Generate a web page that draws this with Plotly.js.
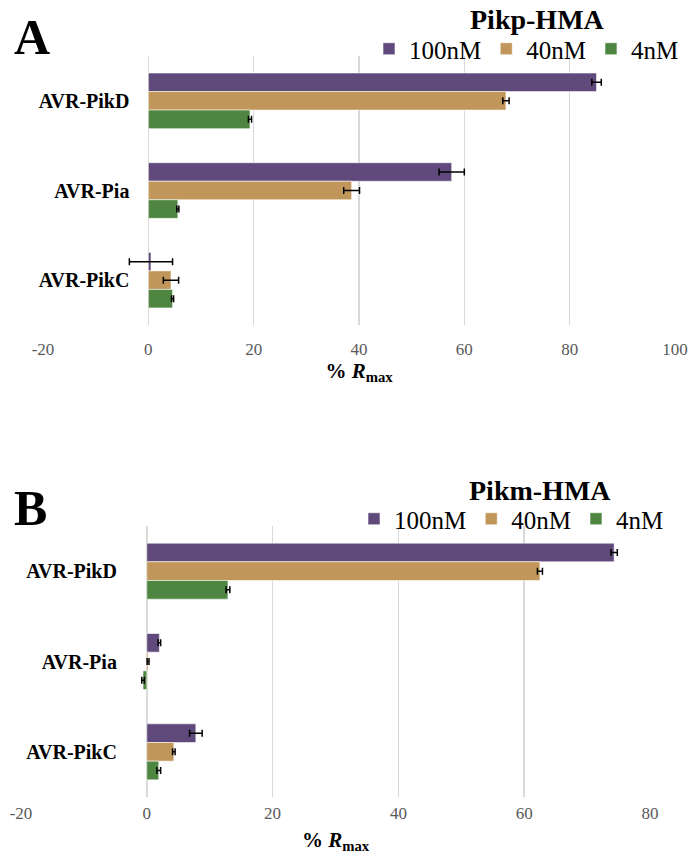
<!DOCTYPE html>
<html>
<head>
<meta charset="utf-8">
<script src="https://cdn.plot.ly/plotly-3.0.1.min.js"></script>
<style>html,body{margin:0;padding:0;background:#fff;}#chart{width:691px;height:854px;}</style>
</head>
<body>
<div id="chart"></div>
<script>
// ---- data ----
const categories = ['AVR-PikD', 'AVR-Pia', 'AVR-PikC'];
const seriesNames = ['100nM', '40nM', '4nM'];
const seriesColors = ['#604a7b', '#c0965a', '#4d8541'];

// Panel A: Pikp-HMA (% Rmax)
const pikp100 = [85.1, 57.6, 0.5];
const pikp100Err = [0.9, 2.4, 4.1];
const pikp40 = [67.9, 38.6, 4.3];
const pikp40Err = [0.6, 1.5, 1.45];
const pikp4 = [19.3, 5.6, 4.6];
const pikp4Err = [0.3, 0.2, 0.2];

// Panel B: Pikm-HMA (% Rmax)
const pikm100 = [74.3, 2.0, 7.8];
const pikm100Err = [0.5, 0.2, 1.0];
const pikm40 = [62.5, 0.2, 4.3];
const pikm40Err = [0.4, 0.15, 0.2];
const pikm4 = [12.9, -0.6, 1.9];
const pikm4Err = [0.3, 0.2, 0.3];

// tick labels
const tickValsA = [-20, 0, 20, 40, 60, 80, 100];
const tickTextA = ['-20', '0', '20', '40', '60', '80', '100'];
const tickValsB = [-20, 0, 20, 40, 60, 80];
const tickTextB = ['-20', '0', '20', '40', '60', '80'];

const W = 691, H = 854;
const px = v => v / W;
const py = v => 1 - v / H;

const serif = 'Liberation Serif, DejaVu Serif, serif';

function mk(vals, errs, idx, xa, ya, legend) {
  return {
    type: 'bar', orientation: 'h',
    y: categories, x: vals,
    name: seriesNames[idx],
    xaxis: xa, yaxis: ya, legend: legend,
    showlegend: true,
    marker: { color: seriesColors[idx], line: { color: 'rgba(255,255,255,0.7)', width: 0.8 } },
    error_x: { type: 'data', array: errs, visible: true, color: '#000', thickness: 1.5, width: 3.5 },
    hoverinfo: 'x+name'
  };
}

const data = [
  mk(pikp100, pikp100Err, 0, 'x', 'y', 'legend'),
  mk(pikp40, pikp40Err, 1, 'x', 'y', 'legend'),
  mk(pikp4, pikp4Err, 2, 'x', 'y', 'legend'),
  mk(pikm100, pikm100Err, 0, 'x2', 'y2', 'legend2'),
  mk(pikm40, pikm40Err, 1, 'x2', 'y2', 'legend2'),
  mk(pikm4, pikm4Err, 2, 'x2', 'y2', 'legend2')
];

const xTitle = '<b>% <i>R</i><sub>max</sub></b>';
const xCommon = {
  showgrid: true, gridcolor: '#d9d9d9', gridwidth: 1.5,
  zeroline: false, showline: false, ticks: '', tickmode: 'array',
  tickfont: { family: serif, size: 17, color: '#595959' },
  fixedrange: true
};
const yCommon = {
  type: 'category', categoryorder: 'array', categoryarray: categories,
  autorange: 'reversed', showgrid: false, zeroline: false, showline: false, ticks: '',
  tickfont: { family: serif, size: 20, color: '#000', weight: 'bold' },
  fixedrange: true
};

const legendCommon = {
  orientation: 'h', xanchor: 'right', yanchor: 'middle',
  font: { family: serif, size: 25, color: '#000' }, bgcolor: 'rgba(0,0,0,0)',
  itemclick: false, itemdoubleclick: false, tracegroupgap: 0
};

const layout = {
  width: W, height: H,
  margin: { l: 0, r: 0, t: 0, b: 0 },
  paper_bgcolor: '#fff', plot_bgcolor: 'rgba(0,0,0,0)',
  barmode: 'group', bargap: 0.38, bargroupgap: 0,
  showlegend: true,
  xaxis: Object.assign({}, xCommon, {
    domain: [px(43), px(675)], range: [-20, 100], anchor: 'y',
    tickvals: tickValsA, ticktext: tickTextA,
    ticklabelstandoff: 12,
    title: { text: xTitle, font: { family: serif, size: 21, color: '#000' }, standoff: 4 }
  }),
  yaxis: Object.assign({}, yCommon, {
    domain: [py(325), py(56)], anchor: 'free', position: px(148.4),
    ticklabelstandoff: 19
  }),
  xaxis2: Object.assign({}, xCommon, {
    domain: [px(21), px(650)], range: [-20, 80], anchor: 'y2',
    tickvals: tickValsB, ticktext: tickTextB,
    ticklabelstandoff: 4,
    title: { text: xTitle, font: { family: serif, size: 21, color: '#000' }, standoff: 10 }
  }),
  yaxis2: Object.assign({}, yCommon, {
    domain: [py(797), py(526)], anchor: 'free', position: px(146.9),
    ticklabelstandoff: 30
  }),
  legend: Object.assign({}, legendCommon, { x: px(684), y: py(49) }),
  legend2: Object.assign({}, legendCommon, { x: px(669), y: py(519) }),
  annotations: [
    { text: '<b>A</b>', xref: 'paper', yref: 'paper', x: px(32), y: py(37), xanchor: 'center', yanchor: 'middle', showarrow: false, font: { family: serif, size: 50, color: '#000' } },
    { text: '<b>B</b>', xref: 'paper', yref: 'paper', x: px(30), y: py(508), xanchor: 'center', yanchor: 'middle', showarrow: false, font: { family: serif, size: 50, color: '#000' } },
    { text: '<b>Pikp-HMA</b>', xref: 'paper', yref: 'paper', x: px(537), y: py(19), xanchor: 'center', yanchor: 'middle', showarrow: false, font: { family: serif, size: 28, color: '#000' } },
    { text: '<b>Pikm-HMA</b>', xref: 'paper', yref: 'paper', x: px(540), y: py(490), xanchor: 'center', yanchor: 'middle', showarrow: false, font: { family: serif, size: 28, color: '#000' } }
  ]
};

Plotly.newPlot('chart', data, layout, { staticPlot: true, displayModeBar: false });
</script>
</body>
</html>
